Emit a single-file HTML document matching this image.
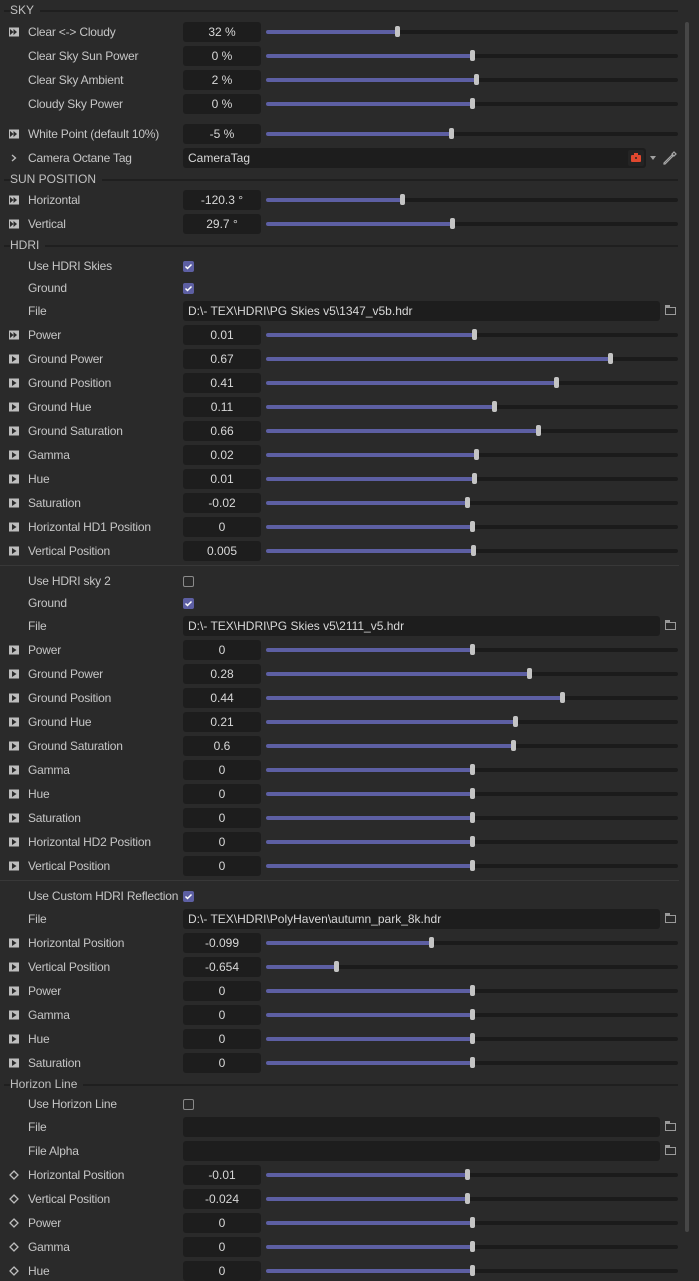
<!DOCTYPE html>
<html><head><meta charset="utf-8">
<style>
html,body{margin:0;padding:0;}
body{width:699px;height:1278px;background:#2a2a2a;position:relative;overflow:hidden;font-family:"Liberation Sans",sans-serif;font-size:12px;color:#c6c6c6;}
.a{position:absolute;}
.lbl{position:absolute;left:28px;line-height:14px;white-space:nowrap;letter-spacing:-0.2px;}
.fld{position:absolute;left:183px;width:78px;height:20px;background:#1d1d1d;border-radius:3px;text-align:center;line-height:20px;color:#d8d8d8;}
.ffld{position:absolute;left:183px;width:477px;height:20px;background:#1d1d1d;border-radius:3px;line-height:20px;color:#d8d8d8;padding-left:5px;box-sizing:border-box;}
.trk{position:absolute;left:266px;width:412px;height:4px;background:#1b1b1b;border-radius:2px;}
.fill{position:absolute;left:0;top:0;height:4px;background:#5d5fa3;border-radius:2px;}
.th{position:absolute;width:5px;height:11px;background:#c4c4c4;border-radius:2px;top:-4px;}
.hdr{position:absolute;left:10px;line-height:14px;color:#c0c0c0;background:#2a2a2a;padding-right:6px;}
.hl{position:absolute;left:4px;width:674px;height:1.5px;background:#1f1f1f;}
.cb{position:absolute;left:183px;width:11px;height:11px;border-radius:2px;}
.cb.on{background:#5d5fa3;}
.cb.off{border:1.5px solid #8a8a8a;box-sizing:border-box;}
.ic{position:absolute;left:8px;}
.fold{position:absolute;left:665px;width:11px;height:8px;border:1.3px solid #9a9a9a;box-sizing:border-box;}
</style></head><body>
<div class="a" style="left:685px;top:22px;width:4px;height:1210px;background:#474747;border-radius:2px"></div>
<div id="c"></div>
<script>
var c=document.getElementById('c');var h='';
function hdr(y,t){h+='<div class="hl" style="top:'+(y)+'px"></div><div class="hdr" style="top:'+(y-7)+'px">'+t+'</div>';}
function icon(y,k){
 if(!k)return;
 var s='<svg class="ic" style="top:'+(y-6)+'px" width="12" height="12" viewBox="0 0 12 12">';
 if(k=='d')s+='<rect x="1" y="1.5" width="10" height="9" fill="#bdbdbd"/><path d="M2 3 L5.5 6 L2 9Z M5.5 3 L9 6 L5.5 9Z" fill="#2a2a2a"/>';
 if(k=='k')s+='<rect x="1" y="1.5" width="10" height="9" fill="#bdbdbd"/><path d="M4 3 L8.5 6 L4 9Z" fill="#2a2a2a"/>';
 if(k=='m')s+='<path d="M6 2 L10 6 L6 10 L2 6Z" fill="none" stroke="#bdbdbd" stroke-width="1.3"/>';
 if(k=='c')s+='<path d="M4 3 L7.5 6 L4 9" fill="none" stroke="#bdbdbd" stroke-width="1.3"/>';
 h+=s+'</svg>';
}
function sl(y,k,l,v,t){icon(y,k);h+='<div class="lbl" style="top:'+(y-7)+'px">'+l+'</div><div class="fld" style="top:'+(y-10)+'px">'+v+'</div>';
 var w=t-266;h+='<div class="trk" style="top:'+(y-2)+'px"><div class="fill" style="width:'+w+'px"></div><div class="th" style="left:'+(w-2)+'px"></div></div>';}
function cb(y,l,on){h+='<div class="lbl" style="top:'+(y-7)+'px">'+l+'</div><div class="cb '+(on?'on':'off')+'" style="top:'+(y-5)+'px">'+(on?'<svg width="11" height="11" style="position:absolute;left:0;top:0"><path d="M2.5 5.5 L4.5 7.5 L8.5 3.5" stroke="#fff" stroke-width="1.5" fill="none"/></svg>':'')+'</div>';}
function fl(y,l,v){h+='<div class="lbl" style="top:'+(y-7)+'px">'+l+'</div><div class="ffld" style="top:'+(y-10)+'px">'+v+'</div><div class="fold" style="top:'+(y-4)+'px"></div><div class="a" style="left:665px;top:'+(y-6)+'px;width:5px;height:2px;background:#9a9a9a"></div>';}
function sep(y){h+='<div class="a" style="left:0;top:'+y+'px;width:679px;height:1px;background:#383838"></div>';}
hdr(10,'SKY');
sl(32,'d','Clear &lt;-&gt; Cloudy','32 %',397);
sl(56,'','Clear Sky Sun Power','0 %',472);
sl(80,'','Clear Sky Ambient','2 %',476);
sl(104,'','Cloudy Sky Power','0 %',472);
sl(134,'d','White Point (default 10%)','-5 %',451);
icon(158,'c');h+='<div class="lbl" style="top:151px">Camera Octane Tag</div><div class="ffld" style="top:148px;width:463px">CameraTag</div>';
h+='<div class="a" style="left:628px;top:150px;width:16px;height:16px;background:#242424;border-radius:2px"></div><div class="a" style="left:631px;top:155px;width:10px;height:7px;background:#e0482f;border-radius:1px"></div><div class="a" style="left:634px;top:153px;width:4px;height:3px;background:#e0482f"></div><div class="a" style="left:635px;top:157px;width:2px;height:2px;background:#242424;border-radius:1px"></div>';
h+='<div class="a" style="left:650px;top:156px;width:0;height:0;border-left:3px solid transparent;border-right:3px solid transparent;border-top:4px solid #a0a0a0"></div>';
h+='<svg class="a" style="left:662px;top:150px" width="16" height="16"><path d="M3 14 L2 14 L2 13 L10 5 L11 6Z M10 4 L12 2 L14 4 L12 6Z" fill="none" stroke="#a8a8a8" stroke-width="1.2"/></svg>';
hdr(179,'SUN POSITION');
sl(200,'d','Horizontal','-120.3 °',402);
sl(224,'d','Vertical','29.7 °',452);
hdr(245,'HDRI');
cb(266,'Use HDRI Skies',1);cb(288,'Ground',1);
fl(311,'File','D:\\- TEX\\HDRI\\PG Skies v5\\1347_v5b.hdr');
sl(335,'d','Power','0.01',474);
sl(359,'k','Ground Power','0.67',610);
sl(383,'k','Ground Position','0.41',556);
sl(407,'k','Ground Hue','0.11',494);
sl(431,'k','Ground Saturation','0.66',538);
sl(455,'k','Gamma','0.02',476);
sl(479,'k','Hue','0.01',474);
sl(503,'k','Saturation','-0.02',467);
sl(527,'k','Horizontal HD1 Position','0',472);
sl(551,'k','Vertical Position','0.005',473);
sep(565);
cb(581,'Use HDRI sky 2',0);cb(603,'Ground',1);
fl(626,'File','D:\\- TEX\\HDRI\\PG Skies v5\\2111_v5.hdr');
sl(650,'k','Power','0',472);
sl(674,'k','Ground Power','0.28',529);
sl(698,'k','Ground Position','0.44',562);
sl(722,'k','Ground Hue','0.21',515);
sl(746,'k','Ground Saturation','0.6',513);
sl(770,'k','Gamma','0',472);
sl(794,'k','Hue','0',472);
sl(818,'k','Saturation','0',472);
sl(842,'k','Horizontal HD2 Position','0',472);
sl(866,'k','Vertical Position','0',472);
sep(880);
cb(896,'Use Custom HDRI Reflection',1);
fl(919,'File','D:\\- TEX\\HDRI\\PolyHaven\\autumn_park_8k.hdr');
sl(943,'k','Horizontal Position','-0.099',431);
sl(967,'k','Vertical Position','-0.654',336);
sl(991,'k','Power','0',472);
sl(1015,'k','Gamma','0',472);
sl(1039,'k','Hue','0',472);
sl(1063,'k','Saturation','0',472);
hdr(1084,'Horizon Line');
cb(1104,'Use Horizon Line',0);
fl(1127,'File','');fl(1151,'File Alpha','');
sl(1175,'m','Horizontal Position','-0.01',467);
sl(1199,'m','Vertical Position','-0.024',467);
sl(1223,'m','Power','0',472);
sl(1247,'m','Gamma','0',472);
sl(1271,'m','Hue','0',472);
c.innerHTML=h;
</script>
</body></html>
